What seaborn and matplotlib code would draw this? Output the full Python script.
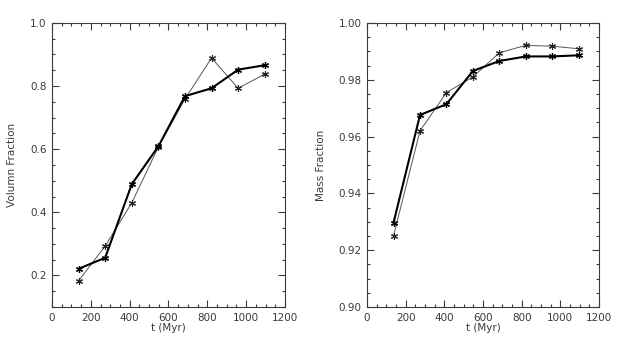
import matplotlib
matplotlib.use("Agg")
import matplotlib.pyplot as plt
from matplotlib.ticker import MultipleLocator
import seaborn as sns
import pandas as pd

sns.set_style("ticks")
plt.rcParams['font.family'] = ['DejaVu Sans']

# DATA HERE
t_myr = [137, 274, 411, 548, 685, 822, 959, 1096]
vol_thick = [0.221, 0.256, 0.489, 0.609, 0.768, 0.793, 0.852, 0.866]
vol_thin = [0.183, 0.293, 0.430, 0.607, 0.759, 0.889, 0.793, 0.838]
mass_thick = [0.9297, 0.9676, 0.9714, 0.9831, 0.9866, 0.9882, 0.9882, 0.9886]
mass_thin = [0.9251, 0.9620, 0.9755, 0.9810, 0.9895, 0.9921, 0.9918, 0.9909]

fig = plt.figure(figsize=(6.18, 3.39), dpi=100)
ax1 = fig.add_axes([0.0841, 0.0944, 0.377, 0.838])
ax2 = fig.add_axes([0.594, 0.0944, 0.375, 0.838])

ink = '#3a3a3a'
star = (6, 2, 0)

panels = [
    (ax1, vol_thick, vol_thin, 'Volumn Fraction', (0.1, 1.0), 0.2, 0.05, '%.1f'),
    (ax2, mass_thick, mass_thin, 'Mass Fraction', (0.90, 1.00), 0.02, 0.005, '%.2f'),
]

for ax, thick, thin, ylabel, ylim, major, minor, fmt in panels:
    df = pd.DataFrame({'t': t_myr, 'thick': thick, 'thin': thin})
    sns.lineplot(data=df, x='t', y='thin', ax=ax, sort=False, color='#555555',
                 linewidth=0.7, marker=star, markersize=5, markeredgewidth=0.8,
                 markeredgecolor='#222222')
    sns.lineplot(data=df, x='t', y='thick', ax=ax, sort=False, color='black',
                 linewidth=1.5, marker=star, markersize=5, markeredgewidth=0.9,
                 markeredgecolor='black')
    ax.set_xlim(0, 1200)
    ax.set_ylim(*ylim)
    ax.xaxis.set_major_locator(MultipleLocator(200))
    ax.xaxis.set_minor_locator(MultipleLocator(50))
    ax.yaxis.set_major_locator(MultipleLocator(major))
    ax.yaxis.set_minor_locator(MultipleLocator(minor))
    ax.yaxis.set_major_formatter(matplotlib.ticker.FormatStrFormatter(fmt))
    ax.tick_params(which='both', direction='in', top=True, right=True,
                   colors=ink, labelcolor=ink, labelsize=7.5, width=0.8)
    ax.tick_params(which='major', length=5, pad=4)
    ax.tick_params(which='minor', length=2.5)
    for s in ax.spines.values():
        s.set_color(ink)
        s.set_linewidth(0.8)
    ax.set_xlabel('t (Myr)', fontsize=7.5, color=ink, labelpad=0)
    ax.set_ylabel(ylabel, fontsize=7.5, color=ink, labelpad=9)

fig.savefig('out.png', dpi=100)
